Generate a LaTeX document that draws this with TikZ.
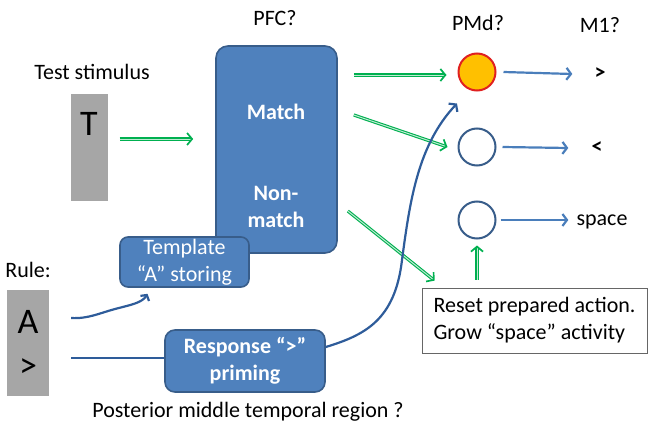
\documentclass[tikz,border=0pt]{standalone}
\usepackage{fontspec}
\setmainfont{Carlito}
\usetikzlibrary{arrows.meta,calc}
\definecolor{boxblue}{HTML}{4F81BD}
\definecolor{boxedge}{HTML}{385D8A}
\definecolor{linkblue}{HTML}{4A7EBB}
\definecolor{curveblue}{HTML}{2E5C9A}
\definecolor{go}{HTML}{00B050}
\definecolor{stim}{HTML}{A6A6A6}
\definecolor{actfill}{HTML}{FFC000}
\definecolor{actedge}{HTML}{E02020}
\tikzset{
  region/.style={draw=boxedge, fill=boxblue, line width=1.6pt, rounded corners=12pt, text=white, align=center, inner sep=0pt},
  stimbox/.style={fill=stim, inner sep=0pt},
  unit/.style={circle, draw=boxedge, line width=2pt, minimum size=37pt, inner sep=0pt},
  label/.style={inner sep=0pt},
  gline/.style={draw=go, line width=1.1pt, double=go!25!white, double distance=1pt, -{Straight Barb[length=5pt,width=12pt,line width=1.7pt]}},
  bline/.style={draw=linkblue, line width=2.2pt, -{Straight Barb[length=4.5pt,width=12pt]}},
  cline/.style={draw=curveblue, line width=2.2pt},
}
\begin{document}
\begin{tikzpicture}[x=1pt, y=-1pt, font=\fontsize{22}{27}\selectfont]
\useasboundingbox (0,0) rectangle (648,431);

% column titles
\node[label] (pfct) at (275,18) {PFC?};
\node[label] (pmdt) at (478,23) {PMd?};
\node[label] (m1t) at (600,25) {M1?};

% test stimulus
\node[label] (testt) at (92,72) {Test stimulus};
\node[stimbox, minimum width=37pt, minimum height=107pt] (tbox) at (89,147.5) {};
\node[label, font=\fontsize{36}{40}\selectfont, anchor=base] (tletter) at (89,135) {T};

% prefrontal block
\node[region, minimum width=121pt, minimum height=207pt] (pfc) at (276.5,149.5) {};
\node[label, text=white, font=\fontsize{22}{27}\selectfont\bfseries] (match) at (276,112) {Match};
\node[label, text=white, align=center, font=\fontsize{22}{27}\selectfont\bfseries] (nonmatch) at (276,207) {Non-\\match};

% rule cue
\node[label] (rulet) at (28,270) {Rule:};
\node[stimbox, minimum width=42pt, minimum height=106pt] (rbox) at (28,343) {};
\node[label, font=\fontsize{36}{40}\selectfont, anchor=base] (aletter) at (28,333) {A};
\node[label, font=\fontsize{36}{40}\selectfont] (gtletter) at (28,368) {>};

% temporal region boxes
\node[region, rounded corners=8pt, minimum width=129pt, minimum height=50pt] (tmpl) at (184.5,262) {Template\\“A” storing};
\node[region, rounded corners=10pt, minimum width=160pt, minimum height=62pt, font=\fontsize{22}{27}\selectfont\bfseries] (resp) at (245,361) {Response “>”\\priming};
\node[label] (pmtr) at (248,412) {Posterior middle temporal region ?};

% premotor units
\node[unit, draw=actedge, fill=actfill] (u1) at (477,72) {};
\node[unit] (u2) at (477,147) {};
\node[unit] (u3) at (477,220) {};

% motor outputs
\node[label, font=\fontsize{22}{27}\selectfont\bfseries] (ogt) at (600,74) {>};
\node[label, font=\fontsize{22}{27}\selectfont\bfseries] (olt) at (597,148) {<};
\node[label] (ospace) at (602,222) {space};

% reset note
\node[draw=black!60, line width=0.8pt, minimum width=225pt, minimum height=65pt, align=left, inner sep=0pt] (reset) at (534.5,320.5) {Reset prepared action.\\Grow “space” activity};

% green links
\draw[gline] ([xshift=12pt,yshift=8.5pt]tbox.east) -- ([xshift=-22pt,yshift=10.5pt]pfc.west);
\draw[gline] ([xshift=16pt,yshift=74.5pt]pfc.east) -- ([xshift=-11pt,yshift=-3pt]u1.west);
\draw[gline] ([xshift=16pt,yshift=34.5pt]pfc.east) -- ([xshift=-10pt]u2.west);
\draw[gline] ([xshift=10pt,yshift=-61.5pt]pfc.east) -- ([xshift=13pt,yshift=7pt]reset.north west);
\draw[gline] ([yshift=8pt]u3.south |- reset.north) -- ([yshift=-6pt]u3.south);

% outputs to motor cortex
\draw[bline] ([xshift=7pt]u1.east) -- ([xshift=-22pt]ogt.west);
\draw[bline] ([xshift=6pt]u2.east) -- ([xshift=-23pt]olt.west);
\draw[bline] ([xshift=4pt]u3.east) -- ([xshift=-8pt]ospace.west |- u3.east);

% rule pathways
\coordinate (astart) at ([xshift=22pt,yshift=25pt]rbox.east);
\coordinate (gtstart) at ([xshift=22pt,yshift=-15pt]rbox.east);
\coordinate (primetip) at ($(u1.south)+(-20,12)$);
\draw[cline, -{Straight Barb[length=4pt,width=10pt]}] (astart) .. controls (88,319) and (100,313) .. (115,309) .. controls (130,305) and (142,303) .. ([xshift=-37pt,yshift=-6pt]tmpl.south);
\draw[cline] (gtstart) -- (gtstart -| resp.west);
\draw[cline, -{Straight Barb[length=4.5pt,width=12pt]}] ([yshift=14pt]resp.east) .. controls (365,335) and (395,320) .. (402,260) .. controls (410,200) and (418,145) .. (primetip);
\end{tikzpicture}
\end{document}
